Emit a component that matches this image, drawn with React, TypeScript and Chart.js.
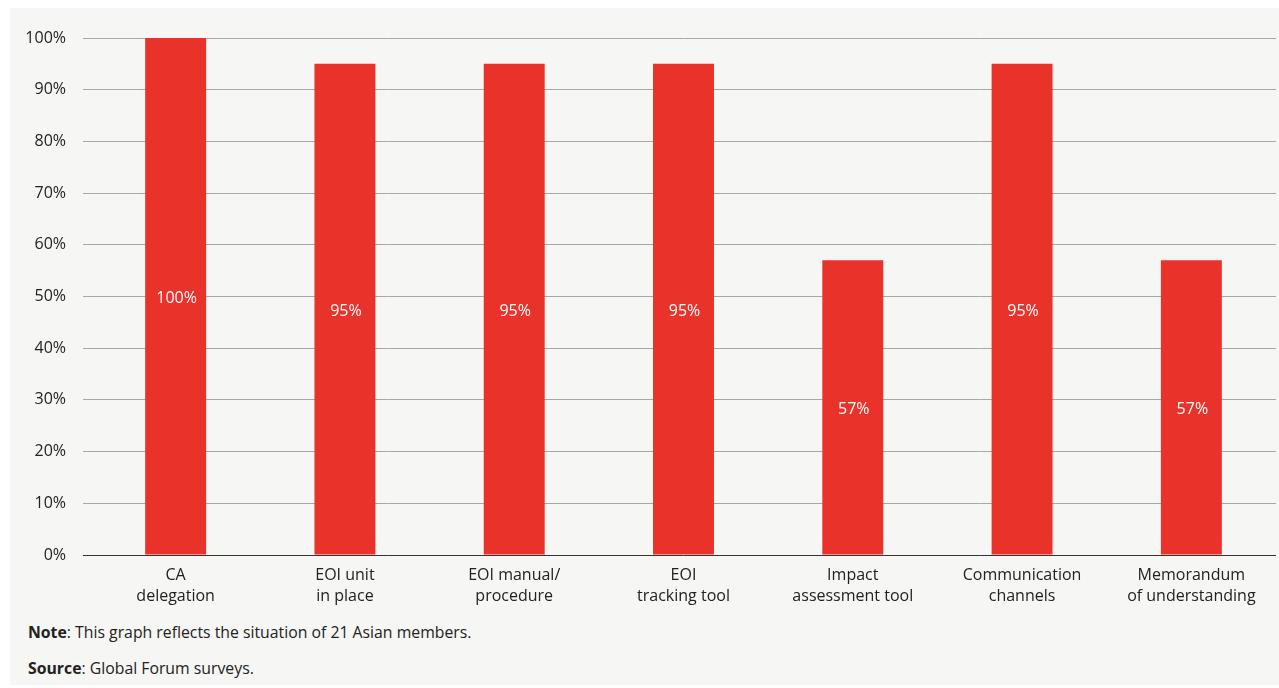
import React, { useEffect, useRef } from "react";
import { Chart, registerables } from "chart.js";

Chart.register(...registerables);

const categories: string[][] = [
  ["CA", "delegation"],
  ["EOI unit", "in place"],
  ["EOI manual/", "procedure"],
  ["EOI", "tracking tool"],
  ["Impact", "assessment tool"],
  ["Communication", "channels"],
  ["Memorandum", "of understanding"],
];
const values: number[] = [100, 95, 95, 95, 57, 95, 57];
const barLabels: string[] = ["100%", "95%", "95%", "95%", "57%", "95%", "57%"];
const yTicks: number[] = [0, 10, 20, 30, 40, 50, 60, 70, 80, 90, 100];

const FONT = "'Open Sans', 'Noto Sans', sans-serif";
const BAR_COLOR = "#e8322a";
const BG = "#f6f6f4";

const barLabelPlugin = {
  id: "barLabels",
  afterDatasetsDraw(chart: any) {
    const ctx = chart.ctx;
    const meta = chart.getDatasetMeta(0);
    ctx.save();
    ctx.fillStyle = "#ffffff";
    ctx.font = `16px ${FONT}`;
    ctx.textAlign = "center";
    ctx.textBaseline = "middle";
    meta.data.forEach((bar: any, i: number) => {
      const yMid = (bar.y + bar.base) / 2;
      ctx.fillText(barLabels[i], bar.x + 1, yMid + 2);
    });
    ctx.restore();
  },
};

export default function App() {
  const ref = useRef<HTMLCanvasElement | null>(null);

  useEffect(() => {
    if (!ref.current) return;
    const chart = new Chart(ref.current, {
      type: "bar",
      data: {
        labels: categories,
        datasets: [
          {
            data: values,
            backgroundColor: BAR_COLOR,
            borderWidth: 0,
            barPercentage: 0.72,
            categoryPercentage: 0.5,
          },
        ],
      },
      options: {
        responsive: false,
        animation: false,
        maintainAspectRatio: false,
        layout: { padding: { top: 30, right: 3, left: 1, bottom: 0 } },
        plugins: {
          legend: { display: false },
          tooltip: { enabled: false },
        },
        scales: {
          x: {
            grid: { display: false, drawTicks: false },
            border: { display: false },
            ticks: {
              color: "#222",
              font: { family: FONT, size: 16, lineHeight: 1.3 },
              padding: 10,
              maxRotation: 0,
              autoSkip: false,
            },
            afterFit: (s: any) => {
              s.height = 60;
            },
          },
          y: {
            min: 0,
            max: 100,
            afterBuildTicks: (s: any) => {
              s.ticks = yTicks.map((v) => ({ value: v }));
            },
            grid: {
              color: (c: any) => (c.tick && c.tick.value === 0 ? "#333333" : "#a8a8a8"),
              lineWidth: 1,
              drawTicks: true,
              tickLength: 8,
            },
            border: { display: false },
            ticks: {
              color: "#222",
              font: { family: FONT, size: 16 },
              padding: 17,
              callback: (v: any) => `${v}%`,
            },
            afterFit: (s: any) => {
              s.width = 80;
            },
          },
        },
      },
      plugins: [barLabelPlugin],
    });
    return () => chart.destroy();
  }, []);

  return (
    <div
      style={{
        position: "fixed",
        left: 10,
        top: 8,
        width: 1269,
        height: 677,
        background: BG,
        fontFamily: FONT,
        color: "#222",
      }}
    >
      <canvas ref={ref} width={1269} height={607} style={{ display: "block" }} />
      <div style={{ position: "absolute", left: 18, top: 613, fontSize: 15.8 }}>
        <b>Note</b>: This graph reflects the situation of 21 Asian members.
      </div>
      <div style={{ position: "absolute", left: 18, top: 649, fontSize: 15.8 }}>
        <b>Source</b>: Global Forum surveys.
      </div>
    </div>
  );
}
